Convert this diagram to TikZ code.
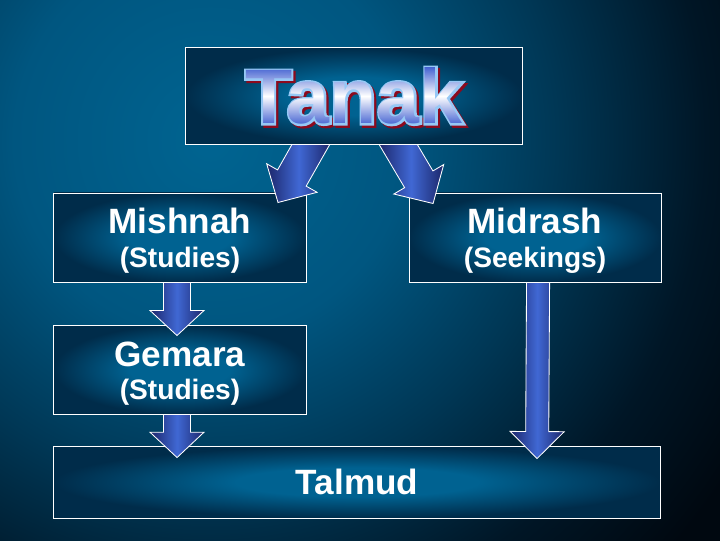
\documentclass[tikz,border=0pt]{standalone}
\usepackage{fontspec}
\setmainfont{Liberation Sans}
\newfontfamily\tanakthick{Liberation Sans Bold}[FakeBold=5]
\usepackage{tikz}
\usetikzlibrary{calc}
\usetikzlibrary{positioning}
\usetikzlibrary{fadings}
\pgfdeclarelayer{front}
\pgfsetlayers{main,front}

\definecolor{bgzero}{RGB}{0,100,145}
\definecolor{bgone}{RGB}{0,86,128}
\definecolor{bgtwo}{RGB}{0,55,85}
\definecolor{bgthree}{RGB}{0,22,38}
\definecolor{bgfour}{RGB}{0,8,16}
\definecolor{boxin}{RGB}{0,98,145}
\definecolor{boxout}{RGB}{0,44,74}
\definecolor{arrowedge}{RGB}{28,38,106}
\definecolor{arrowcore}{RGB}{64,104,212}
\definecolor{tanakblue}{RGB}{70,100,210}
\definecolor{tanakedge}{RGB}{150,200,245}
\definecolor{tanakred}{RGB}{140,10,30}

\pgfdeclareradialshading{backglow}{\pgfpoint{0bp}{0bp}}{color(0bp)=(bgzero); color(7bp)=(bgone);
  color(12.4bp)=(bgtwo); color(17.7bp)=(bgthree); color(22bp)=(bgfour); color(50bp)=(bgfour)}
\pgfdeclareradialshading{boxglow}{\pgfpoint{0bp}{0bp}}{color(0bp)=(boxin); color(10bp)=(boxin);
  color(25bp)=(boxout); color(50bp)=(boxout)}

\newcommand{\tanakfont}{\fontsize{55}{60}\selectfont\bfseries}
\tikzset{box/.style = {draw=white, line width=0.7pt, shade, shading=boxglow, inner sep=0pt},
         heading/.style = {text=white, font=\fontsize{25}{30}\selectfont\bfseries, anchor=base},
         subheading/.style = {text=white, font=\fontsize{20}{24}\selectfont\bfseries, anchor=base},
         tanakletters/.style = {font=\tanakfont, inner sep=0pt},
         tanakrim/.style = {font=\tanakthick\fontsize{55}{60}\selectfont, inner sep=0pt},
         arrowbody/.style = {draw=white, line width=0.6pt, line join=miter,
                             left color=arrowedge, right color=arrowedge, middle color=arrowcore}}
% #1 start, #2 tip, #3 half shaft, #4 half head, #5 head length
\newcommand{\blockarrow}[5]{%
  \coordinate (neck) at ($(#2)!#5!(#1)$);
  \path[arrowbody] ($(#1)!#3!90:(#2)$) -- ($(neck)!#3!90:(#2)$) -- ($(neck)!#4!90:(#2)$) -- (#2)
    -- ($(neck)!#4!-90:(#2)$) -- ($(neck)!#3!-90:(#2)$) -- ($(#1)!#3!-90:(#2)$) -- cycle;}

\begin{document}
\pgfdeclarefading{tanakfade}{\color{white}\tanakfont Tanak}
\begin{tikzpicture}[x=0.025cm, y=-0.025cm]
    \begin{scope}
      \clip (0, 0) rectangle (720, 540);
      \shade [shading=backglow] (210, 140) circle (700);
    \end{scope}
    \useasboundingbox (0, 0) rectangle (720, 540);

    \begin{pgfonlayer}{front}
      \node [box, minimum width=8.4cm, minimum height=2.4cm] (tanak) at (354, 96) {};
      \node [tanakrim, text=tanakred] (tanakshadow) at ([xshift=1.6pt, yshift=-1.6pt]tanak.center) {Tanak};
      \node [tanakrim, text=tanakedge] (tanakrim) at (tanak.center) {Tanak};
      \node [tanakletters] (tanakword) at (tanak.center) {\phantom{Tanak}};
      \shade [path fading=tanakfade, fit fading=false, fading transform={shift={(tanakword.center)}},
              top color=tanakblue, bottom color=tanakblue, middle color=white]
             (tanakword.south west) rectangle (tanakword.north east);
    \end{pgfonlayer}

    \node [box, minimum width=6.3cm, minimum height=2.225cm] (mishnah) at (180, 237.5) {};
    \node [box, minimum width=6.3cm, minimum height=2.225cm, right=2.55cm of mishnah] (midrash) {};
    \node [box, minimum width=6.3cm, minimum height=2.225cm, below=1.05cm of mishnah] (gemara) {};
    \node [box, minimum width=15.15cm, minimum height=1.8cm, below=0.775cm of gemara.south west,
           anchor=north west] (talmud) {};

    \node [heading] (mishnahname) at ([yshift=2.5pt]mishnah.center) {Mishnah};
    \node [subheading] (mishnahnote) at ([yshift=-21pt]mishnah.center) {(Studies)};
    \node [heading] (midrashname) at ([yshift=2.5pt]midrash.center) {Midrash};
    \node [subheading] (midrashnote) at ([yshift=-21pt]midrash.center) {(Seekings)};
    \node [heading] (gemaraname) at ([yshift=2.5pt]gemara.center) {Gemara};
    \node [subheading] (gemaranote) at ([yshift=-21pt]gemara.center) {(Studies)};
    \node [heading] (talmudname) at ([yshift=-9.2pt]talmud.center) {Talmud};

    \coordinate (tanakleft) at ($(tanak.south)+(-37.5, -10)$);
    \coordinate (tanakright) at ($(tanak.south)+(38.3, -10)$);
    \coordinate (mishnahtip) at ($(mishnah.north)+(98, 10)$);
    \coordinate (midrashtip) at ($(midrash.north)+(-102, 11)$);
    \coordinate (mishnahout) at ($(mishnah.south)+(-3, 0)$);
    \coordinate (gemaratip) at ($(gemara.north)+(-3, 11)$);
    \coordinate (gemaraout) at ($(gemara.south)+(-3, 0)$);
    \coordinate (talmudleft) at ($(talmud.north)+(-180, 12)$);
    \coordinate (midrashout) at ($(midrash.south)+(3, 0)$);
    \coordinate (talmudright) at ($(talmud.north)+(180, 13)$);

    \blockarrow{tanakleft}{mishnahtip}{11.7pt}{20.6pt}{20pt}
    \blockarrow{tanakright}{midrashtip}{11.7pt}{20.6pt}{20pt}
    \blockarrow{mishnahout}{gemaratip}{9.6pt}{19.2pt}{17.8pt}
    \blockarrow{gemaraout}{talmudleft}{9.6pt}{19.2pt}{18pt}
    \blockarrow{midrashout}{talmudright}{8.2pt}{19.2pt}{19.2pt}
\end{tikzpicture}
\end{document}
